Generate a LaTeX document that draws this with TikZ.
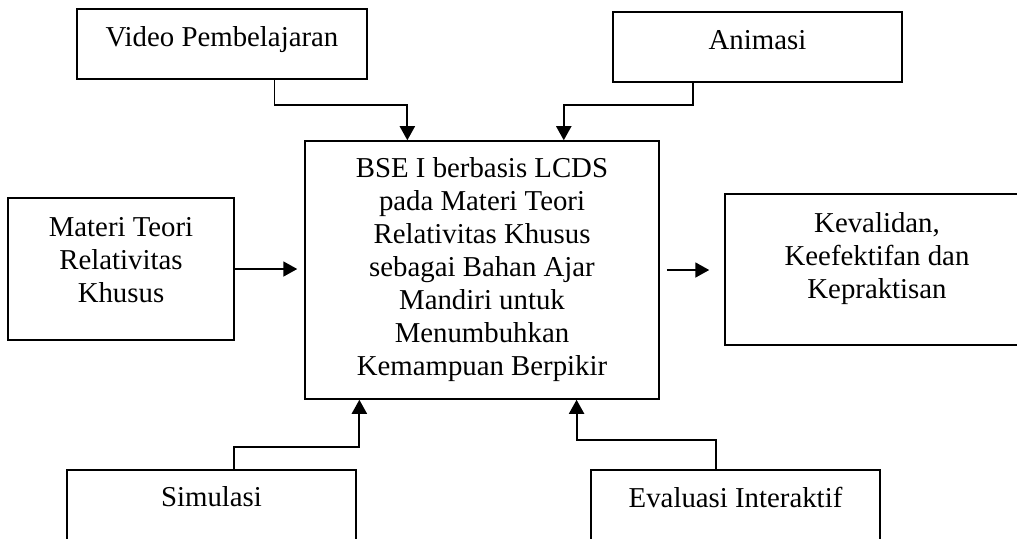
\documentclass[tikz,border=0pt]{standalone}
\usepackage{fontspec}
\setmainfont{Liberation Serif}
\usetikzlibrary{arrows.meta,calc}

\begin{document}
\begin{tikzpicture}[x=0.02cm, y=-0.02cm,
  frame/.style={rectangle, draw, line width=0.9pt, inner sep=0pt},
  txt/.style={anchor=north, inner sep=0pt, align=center, font=\fontsize{16.4}{18.8}\selectfont},
  arr/.style={line width=1.1pt, -{Triangle[length=0.28cm, width=0.3cm]}}]
  \useasboundingbox (0,0) rectangle (1017,538);
  \clip (0,0) rectangle (1017,538);

  \node[frame, minimum width=5.8cm, minimum height=1.4cm] (video) at (222,44) {};
  \node[frame, minimum width=5.78cm, minimum height=1.4cm] (anim) at (757.5,47) {};
  \node[frame, minimum width=4.52cm, minimum height=2.84cm] (materi) at (121,269) {};
  \node[frame, minimum width=7.08cm, minimum height=5.16cm] (bse) at (482,270) {};
  \node[frame, minimum width=6.08cm, minimum height=3.02cm] (kev) at (877,269.5) {};
  \node[frame, minimum width=5.78cm, minimum height=2cm] (sim) at (211.5,520) {};
  \node[frame, minimum width=5.78cm, minimum height=2cm] (eval) at (735.5,520) {};

  \node[txt] (video-txt) at ($(video.north)+(0,18)$) {Video Pembelajaran};
  \node[txt] (anim-txt) at ($(anim.north)+(0,19)$) {Animasi};
  \node[txt] (materi-txt) at ($(materi.north)+(0,20)$) {Materi Teori\\Relativitas\\Khusus};
  \node[txt] (bse-txt) at ($(bse.north)+(0,17)$) {BSE I berbasis LCDS\\pada Materi Teori\\Relativitas Khusus\\sebagai Bahan Ajar\\Mandiri untuk\\Menumbuhkan\\Kemampuan Berpikir};
  \node[txt] (kev-txt) at ($(kev.north)+(0,19)$) {Kevalidan,\\Keefektifan dan\\Kepraktisan};
  \node[txt] (sim-txt) at ($(sim.north)+(0,17)$) {Simulasi};
  \node[txt] (eval-txt) at ($(eval.north)+(0,18)$) {Evaluasi Interaktif};

  \draw[arr] ($(video.south west)!0.68!(video.south east)$) -- ++(0,25) -| ($(bse.north west)!0.29!(bse.north east)$);
  \draw[arr] ($(anim.south west)!0.277!(anim.south east)$) -- ++(0,22) -| ($(bse.north west)!0.73!(bse.north east)$);
  \draw[arr] ($(sim.north west)!0.578!(sim.north east)$) -- ++(0,-22) -| ($(bse.south west)!0.155!(bse.south east)$);
  \draw[arr] ($(eval.north west)!0.433!(eval.north east)$) -- ++(0,-29) -| ($(bse.south west)!0.766!(bse.south east)$);
  \draw[arr, shorten >=0.14cm] (materi.east) -- (materi.east -| bse.west);
  \draw[arr, shorten <=0.14cm, shorten >=0.3cm] (bse.east) -- (bse.east -| kev.west);
\end{tikzpicture}
\end{document}
